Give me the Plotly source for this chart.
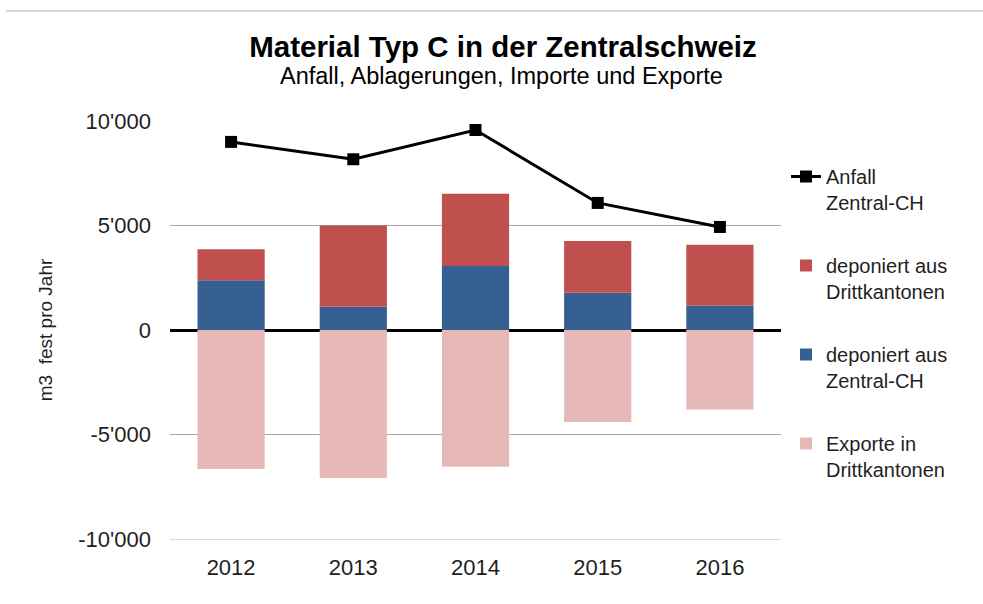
import plotly.graph_objects as go

# ---- data ----
years = ["2012", "2013", "2014", "2015", "2016"]
anfall_zentral = [9000, 8170, 9570, 6080, 4930]          # line: Anfall Zentral-CH
dep_zentral = [2380, 1110, 3060, 1780, 1160]             # deponiert aus Zentral-CH
dep_dritt = [1480, 3890, 3460, 2480, 2920]               # deponiert aus Drittkantonen
exporte = [-6650, -7080, -6540, -4400, -3800]            # Exporte in Drittkantonen

y_tick_values = [-10000, -5000, 0, 5000, 10000]
y_tick_labels = ["-10'000", "-5'000", "0", "5'000", "10'000"]

FONT = "Liberation Sans, Arial, sans-serif"
TXT = "#1f1f1f"

fig = go.Figure()

fig.add_trace(go.Bar(
    x=years, y=dep_zentral, name="deponiert aus<br>Zentral-CH",
    marker=dict(color="#376092", line=dict(width=0)),
    legendgroup="g3", legendrank=3,
))
fig.add_trace(go.Bar(
    x=years, y=dep_dritt, name="deponiert aus<br>Drittkantonen",
    marker=dict(color="#C0504D", line=dict(width=0)),
    legendgroup="g2", legendrank=2,
))
fig.add_trace(go.Bar(
    x=years, y=exporte, name="Exporte in<br>Drittkantonen",
    marker=dict(color="#E6B9B8", line=dict(width=0)),
    legendgroup="g4", legendrank=4,
))
fig.add_trace(go.Scatter(
    x=years, y=anfall_zentral, name="Anfall<br>Zentral-CH",
    mode="lines+markers",
    line=dict(color="black", width=3),
    marker=dict(symbol="square", size=12, color="black"),
    legendgroup="g1", legendrank=1,
))

fig.update_layout(
    width=983, height=604,
    margin=dict(l=170, r=202, t=121, b=65),
    paper_bgcolor="white", plot_bgcolor="white",
    barmode="relative", bargap=0.45,
    font=dict(family=FONT, color=TXT),
    title=dict(
        text="<b>Material Typ C in der Zentralschweiz</b>",
        font=dict(size=29.5, family=FONT, color="black"),
        x=503 / 983, xanchor="center", xref="container",
        y=1 - 47 / 604, yanchor="middle", yref="container",
    ),
    annotations=[dict(
        text="Anfall, Ablagerungen, Importe und Exporte",
        xref="paper", yref="paper",
        x=(501 - 170) / 611, y=(539 - 76) / 418,
        xanchor="center", yanchor="middle", showarrow=False,
        font=dict(size=23.5, family=FONT, color="black"),
    )],
    shapes=[dict(
        type="line", xref="paper", yref="paper",
        x0=(6 - 170) / 611, x1=(983 - 170) / 611,
        y0=(539 - 11) / 418, y1=(539 - 11) / 418,
        line=dict(color="#c8c8c8", width=1.5),
    )],
    legend=dict(
        x=(786 - 170) / 611, xanchor="left",
        y=(539 - 157) / 418, yanchor="top",
        font=dict(size=20, family=FONT, color=TXT),
        traceorder="grouped", tracegroupgap=34,
        valign="top", bgcolor="rgba(0,0,0,0)",
    ),
    xaxis=dict(
        range=[-0.5, 4.5], showgrid=False, zeroline=False,
        showline=True, linecolor="#d9d9d9", linewidth=1,
        tickfont=dict(size=22, family=FONT, color=TXT),
        ticks="", ticklabelstandoff=9,
    ),
    yaxis=dict(
        range=[-10000, 10000],
        tickvals=y_tick_values, ticktext=y_tick_labels,
        tickfont=dict(size=22, family=FONT, color=TXT),
        showgrid=True, gridcolor="#a6a6a6", gridwidth=1,
        zeroline=True, zerolinecolor="black", zerolinewidth=2.5,
        ticks="", ticklabelstandoff=18,
        title=dict(text="m3  fest pro Jahr", font=dict(size=19, family=FONT, color=TXT), standoff=20),
    ),
    showlegend=True,
)

fig.write_html("out.html", config={"displayModeBar": False},
               post_script="document.body.style.margin='0';")
